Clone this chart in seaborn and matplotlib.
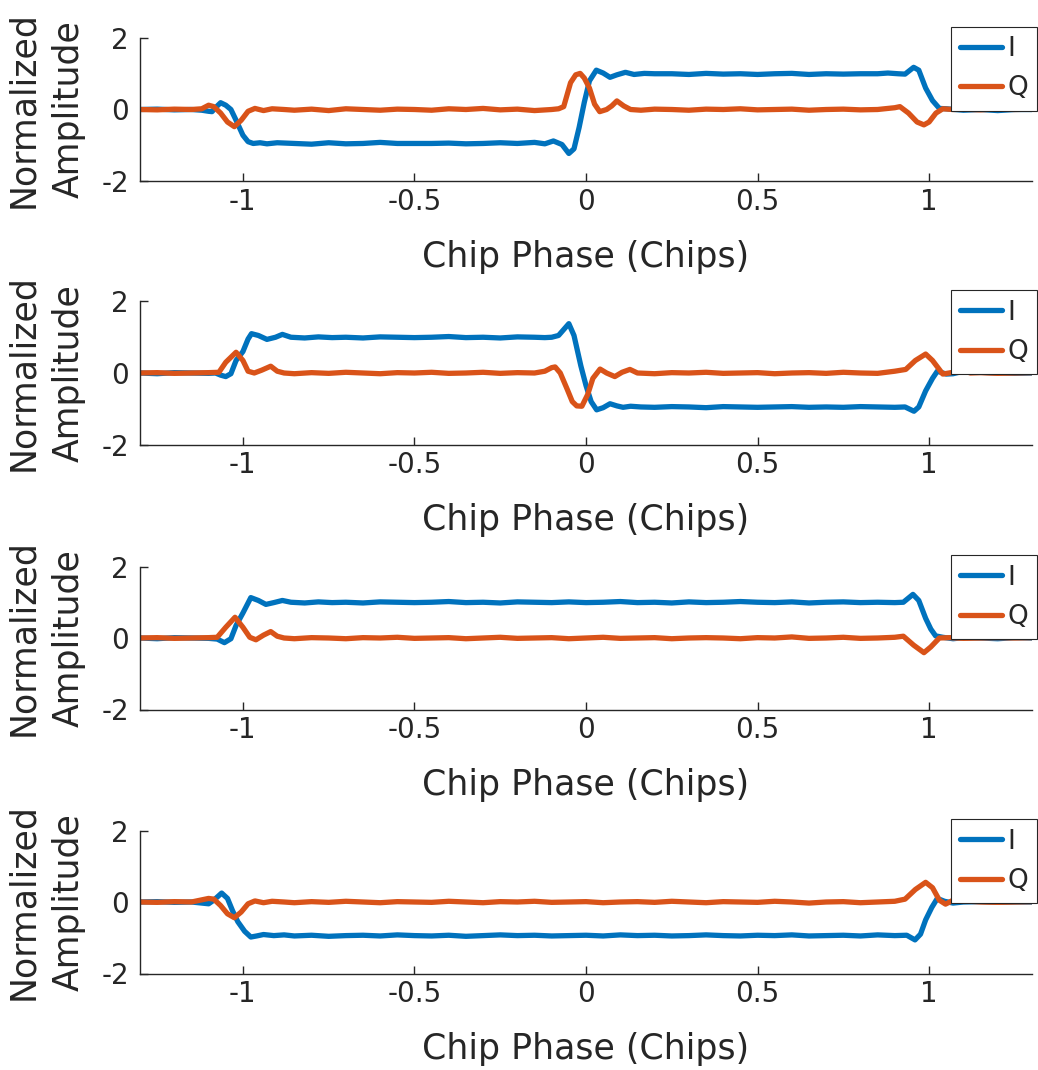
import numpy as np
import pandas as pd
import matplotlib
matplotlib.use("Agg")
import matplotlib.pyplot as plt
import seaborn as sns

# ---------------- data ----------------
P1_I_x = [-1.30,-1.25,-1.20,-1.15,-1.12,-1.10,-1.09,-1.08,-1.065,-1.05,-1.035,-1.02,-1.00,-0.985,-0.97,-0.95,-0.93,-0.90,-0.85,-0.80,-0.75,-0.70,-0.65,-0.60,-0.55,-0.50,-0.45,-0.40,-0.35,-0.30,-0.25,-0.20,-0.15,-0.12,-0.095,-0.07,-0.05,-0.035,-0.02,-0.005,0.01,0.03,0.05,0.07,0.09,0.115,0.14,0.17,0.20,0.25,0.30,0.35,0.40,0.45,0.50,0.55,0.60,0.65,0.70,0.75,0.80,0.85,0.88,0.91,0.93,0.955,0.97,0.99,1.01,1.03,1.05,1.10,1.15,1.20,1.25,1.30]
P1_I_y = [0.00,0.01,-0.01,0.00,-0.02,-0.05,-0.06,0.05,0.19,0.12,0.00,-0.30,-0.72,-0.90,-0.95,-0.93,-0.96,-0.93,-0.95,-0.97,-0.93,-0.96,-0.95,-0.92,-0.95,-0.95,-0.95,-0.94,-0.96,-0.95,-0.93,-0.95,-0.92,-0.96,-0.88,-0.98,-1.23,-1.10,-0.50,0.20,0.80,1.10,1.02,0.90,0.97,1.04,0.98,1.01,1.00,1.00,0.98,1.01,0.99,1.00,0.98,1.00,1.01,0.98,1.00,0.99,1.00,1.00,1.02,1.00,0.99,1.18,1.10,0.60,0.25,0.03,0.02,-0.02,0.00,-0.03,0.00,0.00]
P1_Q_x = [-1.30,-1.25,-1.20,-1.15,-1.12,-1.10,-1.085,-1.065,-1.045,-1.025,-1.005,-0.985,-0.965,-0.94,-0.915,-0.88,-0.85,-0.80,-0.75,-0.70,-0.65,-0.60,-0.55,-0.50,-0.45,-0.40,-0.35,-0.30,-0.25,-0.20,-0.15,-0.10,-0.08,-0.065,-0.045,-0.03,-0.017,-0.005,0.01,0.025,0.04,0.06,0.075,0.09,0.11,0.13,0.16,0.20,0.25,0.30,0.35,0.40,0.45,0.50,0.55,0.60,0.65,0.70,0.75,0.80,0.85,0.90,0.915,0.94,0.965,0.985,1.00,1.02,1.04,1.07,1.10,1.15,1.20,1.25,1.30]
P1_Q_y = [0.00,-0.01,0.01,0.00,0.02,0.12,0.08,-0.10,-0.35,-0.48,-0.30,-0.05,0.03,-0.03,0.02,0.00,-0.02,0.01,-0.03,0.02,0.00,-0.02,0.01,0.00,-0.02,0.02,0.00,0.03,-0.01,0.01,-0.03,0.00,0.02,0.08,0.75,0.97,1.01,0.88,0.60,0.15,-0.06,0.00,0.10,0.24,0.10,0.00,-0.02,0.01,0.00,-0.02,0.01,0.00,0.02,-0.01,0.00,0.01,-0.02,0.00,0.01,-0.01,0.00,0.05,0.08,-0.10,-0.35,-0.43,-0.35,-0.10,0.02,0.00,0.01,-0.01,0.02,0.00,0.01]

P2_I_x = [-1.30,-1.25,-1.20,-1.15,-1.10,-1.08,-1.065,-1.05,-1.035,-1.02,-1.00,-0.985,-0.975,-0.955,-0.93,-0.905,-0.885,-0.86,-0.82,-0.78,-0.74,-0.70,-0.65,-0.60,-0.55,-0.50,-0.45,-0.40,-0.35,-0.30,-0.25,-0.20,-0.15,-0.12,-0.10,-0.08,-0.05,-0.035,-0.015,0.00,0.015,0.031,0.05,0.07,0.09,0.108,0.13,0.16,0.20,0.25,0.30,0.35,0.40,0.45,0.50,0.55,0.60,0.65,0.70,0.75,0.80,0.85,0.90,0.93,0.956,0.97,0.99,1.01,1.024,1.05,1.07,1.10,1.15,1.20,1.25,1.30]
P2_I_y = [0.00,-0.02,0.01,0.00,-0.01,0.00,-0.06,-0.10,-0.02,0.35,0.60,0.95,1.10,1.05,0.94,1.00,1.08,1.00,0.98,1.01,0.99,1.00,0.98,1.01,1.00,0.99,1.00,1.02,0.99,1.00,0.98,1.01,1.00,0.99,1.00,1.05,1.38,1.05,0.20,-0.35,-0.80,-1.03,-0.97,-0.86,-0.92,-0.96,-0.93,-0.95,-0.96,-0.94,-0.95,-0.97,-0.94,-0.95,-0.96,-0.95,-0.94,-0.96,-0.95,-0.96,-0.94,-0.95,-0.96,-0.95,-1.07,-0.95,-0.50,-0.15,0.05,-0.03,-0.02,0.05,0.02,0.00,-0.01,0.00]
P2_Q_x = [-1.30,-1.25,-1.20,-1.15,-1.10,-1.07,-1.05,-1.02,-1.00,-0.985,-0.967,-0.945,-0.919,-0.90,-0.88,-0.85,-0.80,-0.75,-0.70,-0.65,-0.60,-0.55,-0.50,-0.45,-0.40,-0.35,-0.30,-0.25,-0.20,-0.15,-0.12,-0.10,-0.09,-0.075,-0.055,-0.04,-0.027,-0.012,0.005,0.02,0.041,0.06,0.084,0.105,0.128,0.15,0.20,0.25,0.30,0.35,0.40,0.45,0.50,0.55,0.60,0.65,0.70,0.75,0.80,0.85,0.90,0.932,0.96,0.99,1.01,1.04,1.07,1.096,1.12,1.15,1.20,1.25,1.30]
P2_Q_y = [0.00,0.01,-0.01,0.00,0.01,0.02,0.30,0.58,0.35,0.05,0.00,0.08,0.19,0.05,0.00,-0.02,0.01,-0.01,0.02,0.00,-0.02,0.01,0.00,0.02,-0.01,0.00,0.02,-0.01,0.01,0.00,0.05,0.15,0.17,0.00,-0.45,-0.80,-0.92,-0.93,-0.60,-0.15,0.11,0.00,-0.10,0.02,0.10,0.00,-0.02,0.01,0.00,0.02,-0.01,0.00,0.01,-0.02,0.00,0.01,-0.01,0.02,0.00,-0.01,0.05,0.10,0.35,0.53,0.35,-0.03,0.02,0.11,0.00,0.01,-0.01,0.00,0.01]

P3_I_x = [-1.30,-1.25,-1.20,-1.15,-1.10,-1.075,-1.054,-1.035,-1.02,-1.00,-0.985,-0.977,-0.955,-0.933,-0.91,-0.885,-0.86,-0.82,-0.78,-0.74,-0.70,-0.65,-0.60,-0.55,-0.50,-0.45,-0.40,-0.35,-0.30,-0.25,-0.20,-0.15,-0.10,-0.05,0.00,0.05,0.10,0.15,0.20,0.25,0.30,0.35,0.40,0.45,0.50,0.55,0.60,0.65,0.70,0.75,0.80,0.85,0.90,0.925,0.953,0.97,0.99,1.005,1.019,1.04,1.07,1.10,1.15,1.20,1.25,1.30]
P3_I_y = [0.00,-0.02,0.01,0.00,-0.01,-0.03,-0.13,-0.02,0.35,0.70,0.98,1.13,1.05,0.94,0.99,1.05,1.00,0.98,1.01,0.99,1.00,0.98,1.01,1.00,0.99,1.00,1.02,0.99,1.00,0.98,1.01,1.00,0.99,1.01,0.99,1.00,1.02,0.99,1.00,0.98,1.01,0.99,1.00,1.02,1.00,0.99,1.01,0.98,1.00,1.01,0.99,1.00,0.99,1.00,1.22,1.05,0.55,0.25,0.06,0.02,-0.02,0.01,0.00,-0.02,0.01,0.00]
P3_Q_x = [-1.30,-1.25,-1.20,-1.15,-1.10,-1.075,-1.05,-1.023,-1.00,-0.98,-0.962,-0.94,-0.919,-0.90,-0.88,-0.85,-0.80,-0.75,-0.70,-0.65,-0.60,-0.55,-0.50,-0.45,-0.40,-0.35,-0.30,-0.25,-0.20,-0.15,-0.10,-0.05,0.00,0.05,0.10,0.15,0.20,0.25,0.30,0.35,0.40,0.45,0.50,0.55,0.60,0.65,0.70,0.75,0.80,0.85,0.90,0.925,0.955,0.985,1.005,1.03,1.06,1.10,1.15,1.20,1.25,1.30]
P3_Q_y = [0.00,0.01,-0.01,0.00,0.01,0.02,0.30,0.58,0.30,0.02,-0.05,0.08,0.18,0.05,0.00,-0.02,0.01,0.00,-0.02,0.01,0.00,0.02,-0.01,0.00,0.01,-0.02,0.00,0.02,-0.01,0.00,0.01,-0.02,0.00,0.02,-0.01,0.00,0.01,-0.02,0.00,0.01,0.00,-0.02,0.01,0.00,0.03,-0.01,0.00,0.02,-0.01,0.00,0.02,0.05,-0.20,-0.41,-0.25,0.00,0.01,-0.01,0.00,0.01,0.00,0.01]

P4_I_x = [-1.30,-1.25,-1.20,-1.15,-1.10,-1.085,-1.062,-1.045,-1.03,-1.015,-0.995,-0.977,-0.96,-0.94,-0.91,-0.88,-0.85,-0.80,-0.75,-0.70,-0.65,-0.60,-0.55,-0.50,-0.45,-0.40,-0.35,-0.30,-0.25,-0.20,-0.15,-0.10,-0.05,0.00,0.05,0.10,0.15,0.20,0.25,0.30,0.35,0.40,0.45,0.50,0.55,0.60,0.65,0.70,0.75,0.80,0.85,0.90,0.935,0.959,0.975,0.99,1.008,1.024,1.045,1.07,1.10,1.15,1.20,1.25,1.30]
P4_I_y = [0.00,0.01,-0.01,0.00,-0.05,0.05,0.25,0.10,-0.25,-0.55,-0.82,-0.98,-0.95,-0.91,-0.94,-0.92,-0.95,-0.93,-0.96,-0.94,-0.93,-0.95,-0.92,-0.94,-0.95,-0.93,-0.96,-0.94,-0.92,-0.94,-0.93,-0.95,-0.94,-0.93,-0.95,-0.92,-0.94,-0.93,-0.95,-0.94,-0.92,-0.94,-0.95,-0.93,-0.94,-0.92,-0.95,-0.94,-0.93,-0.95,-0.92,-0.94,-0.93,-1.06,-0.90,-0.50,-0.15,0.10,0.02,-0.03,0.00,0.01,-0.01,0.00,0.00]
P4_Q_x = [-1.30,-1.25,-1.20,-1.15,-1.10,-1.085,-1.065,-1.045,-1.025,-1.005,-0.985,-0.965,-0.94,-0.915,-0.88,-0.85,-0.80,-0.75,-0.70,-0.65,-0.60,-0.55,-0.50,-0.45,-0.40,-0.35,-0.30,-0.25,-0.20,-0.15,-0.10,-0.05,0.00,0.05,0.10,0.15,0.20,0.25,0.30,0.35,0.40,0.45,0.50,0.55,0.60,0.65,0.70,0.75,0.80,0.85,0.90,0.93,0.96,0.99,1.01,1.03,1.048,1.07,1.097,1.12,1.15,1.20,1.25,1.30]
P4_Q_y = [0.00,-0.01,0.01,0.00,0.10,0.08,-0.10,-0.33,-0.44,-0.28,-0.05,0.03,-0.02,0.02,0.00,-0.02,0.01,-0.01,0.02,0.00,-0.02,0.01,0.00,-0.01,0.02,0.00,-0.02,0.01,0.00,0.02,-0.01,0.00,0.01,-0.02,0.00,0.01,-0.01,0.02,0.00,-0.02,0.01,0.00,-0.01,0.02,0.00,-0.03,0.00,0.01,-0.02,0.00,0.02,0.08,0.35,0.55,0.40,0.05,-0.06,0.05,0.16,0.02,0.00,-0.01,0.00,0.01]

SERIES_NAMES = ["I", "Q"]
X_TICKS = [-1, -0.5, 0, 0.5, 1]
X_TICK_LABELS = ["-1", "-0.5", "0", "0.5", "1"]
Y_TICKS = [-2, 0, 2]
Y_TICK_LABELS = ["-2", "0", "2"]
X_LABEL = "Chip Phase (Chips)"
Y_LABEL = "Normalized\nAmplitude"

panels = [
    (P1_I_x, P1_I_y, P1_Q_x, P1_Q_y),
    (P2_I_x, P2_I_y, P2_Q_x, P2_Q_y),
    (P3_I_x, P3_I_y, P3_Q_x, P3_Q_y),
    (P4_I_x, P4_I_y, P4_Q_x, P4_Q_y),
]

# ---------------- style ----------------
sns.set_theme(style="white")
plt.rcParams["font.family"] = ["DejaVu Sans"]
plt.rcParams["axes.unicode_minus"] = False
TXT = "#262626"
PALETTE = {"I": "#0072BD", "Q": "#D95319"}
LW = 3.8

fig = plt.figure(figsize=(10.38, 10.70), dpi=100)
left, width, height = 140 / 1038, 892 / 1038, 143 / 1070
bottoms_px = [181, 444.5, 709.5, 973.5]

for (ix, iy, qx, qy), bpx in zip(panels, bottoms_px):
    ax = fig.add_axes([left, 1 - bpx / 1070, width, height])
    df = pd.concat([
        pd.DataFrame({"x": ix, "y": iy, "comp": SERIES_NAMES[0]}),
        pd.DataFrame({"x": qx, "y": qy, "comp": SERIES_NAMES[1]}),
    ], ignore_index=True)
    sns.lineplot(data=df, x="x", y="y", hue="comp", palette=PALETTE,
                 estimator=None, linewidth=LW, ax=ax, legend=True)
    ax.set_xlim(-1.3, 1.3)
    ax.set_ylim(-2, 2)
    ax.set_xticks(X_TICKS)
    ax.set_xticklabels(X_TICK_LABELS)
    ax.set_yticks(Y_TICKS)
    ax.set_yticklabels(Y_TICK_LABELS)
    for s in ["top", "right"]:
        ax.spines[s].set_visible(False)
    for s in ["left", "bottom"]:
        ax.spines[s].set_color(TXT)
        ax.spines[s].set_linewidth(1.0)
    ax.tick_params(direction="in", length=6, width=1, color=TXT,
                   labelcolor=TXT, labelsize=20, pad=8,
                   bottom=True, left=True)
    ax.tick_params(axis="x", pad=5)
    ax.set_xlabel(X_LABEL, fontsize=25, color=TXT, labelpad=17)
    ylab = ax.set_ylabel(Y_LABEL, fontsize=25, color=TXT, labelpad=11)
    ylab.set_linespacing(1.45)
    handles, labels = ax.get_legend_handles_labels()
    leg = ax.legend(handles, labels, loc="upper right",
                    bbox_to_anchor=(1.006, 1.077), fontsize=19,
                    frameon=True, fancybox=False, framealpha=1,
                    edgecolor=TXT, handlelength=1.6, handletextpad=0.2,
                    borderpad=0.35, labelspacing=0.5, borderaxespad=0)
    leg.get_frame().set_linewidth(0.8)
    for ln in leg.get_lines():
        ln.set_linewidth(LW)

fig.savefig("out.png", dpi=100, facecolor="white")
